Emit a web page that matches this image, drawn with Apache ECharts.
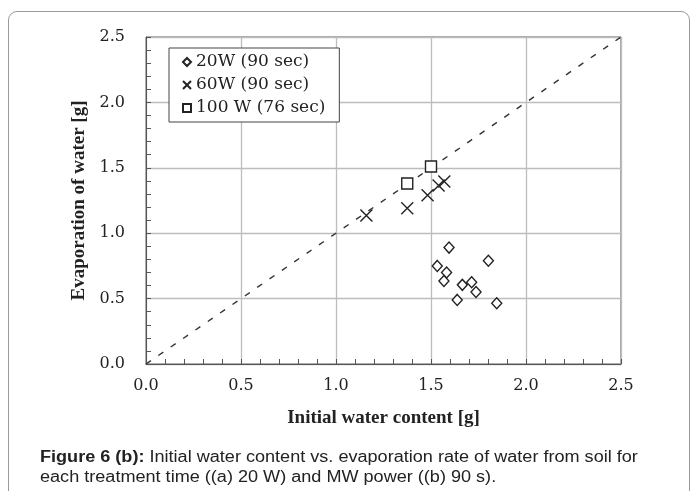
<!DOCTYPE html>
<html>
<head>
<meta charset="utf-8">
<script src="https://cdn.jsdelivr.net/npm/echarts@6/dist/echarts.min.js"></script>
<style>
  html, body { margin: 0; padding: 0; background: #fff; }
  .page { position: relative; width: 690px; height: 491px; overflow: hidden; }
  /* rounded frame, cut off at the bottom */
  .frame {
    position: absolute; left: 8px; top: 11px; width: 680px; height: 520px;
    border: 1px solid #9a9a9a; border-radius: 9px;
  }
  #chart { position: absolute; left: 0; top: 0; width: 690px; height: 491px; }
  .caption {
    position: absolute; left: 40px; top: 447px; white-space: nowrap;
    font-family: "Liberation Sans", Arial, sans-serif; font-size: 16px;
    line-height: 20px; color: #222;
    transform: scaleX(1.13); transform-origin: left top;
  }
  .caption b { font-weight: bold; }
</style>
</head>
<body>
<div class="page">
  <div class="frame"></div>
  <div id="chart"></div>
  <div class="caption"><b>Figure 6 (b):</b> Initial water content vs. evaporation rate of water from soil for<br>each treatment time ((a) 20 W) and MW power ((b) 90 s).</div>
</div>
<script>
// 20W (90 sec): [initial water content, evaporation]
const w20 = [
  [1.595, 0.89], [1.533, 0.75], [1.582, 0.70], [1.568, 0.635], [1.802, 0.79],
  [1.665, 0.605], [1.714, 0.625], [1.737, 0.55], [1.638, 0.49], [1.846, 0.465]
]
// 60W (90 sec)
const w60 = [
  [1.16, 1.135], [1.375, 1.19], [1.482, 1.29], [1.54, 1.365], [1.57, 1.395]
]
// 100 W (76 sec)
const w100 = [
  [1.375, 1.38], [1.50, 1.51]
]
// 1:1 reference line
const oneToOne = [[0, 0], [2.5, 2.5]]
const axisTicks = [0, 0.5, 1.0, 1.5, 2.0, 2.5]

const serif = 'DejaVu Serif'
const titleFont = 'Liberation Serif'
const crossPath = 'path://M0,0L10,10M10,0L0,10'

const chart = echarts.init(document.getElementById('chart'))

function mainAxis(extra) {
  return Object.assign({
    type: 'value',
    min: axisTicks[0],
    max: axisTicks[axisTicks.length - 1],
    interval: 0.5,
    axisLine: { show: true, lineStyle: { color: '#555', width: 1 } },
    axisTick: { show: false },
    splitLine: { show: true, lineStyle: { color: '#bdbdbd', width: 1.3 } },
    nameTextStyle: { fontFamily: titleFont, fontWeight: 'bold', fontSize: 19, color: '#222' }
  }, extra)
}

// helper axis that only draws the small inward ticks every 0.1
function tickAxis(extra) {
  return Object.assign({
    type: 'value', min: 0, max: 2.5, interval: 0.1,
    axisLine: { show: false },
    axisTick: { show: true, inside: true, length: 5, lineStyle: { color: '#555', width: 1 } },
    axisLabel: { show: false },
    splitLine: { show: false }
  }, extra)
}

chart.setOption({
  backgroundColor: 'transparent',
  animation: false,
  grid: {
    left: 146, right: 69, top: 37, bottom: 127,
    show: true, borderColor: '#555', borderWidth: 1
  },
  legend: {
    left: 169, top: 48,
    orient: 'vertical',
    data: ['20W (90 sec)', '60W (90 sec)', '100 W (76 sec)'],
    backgroundColor: '#fff',
    borderColor: '#444', borderWidth: 1, borderRadius: 0,
    padding: [5, 14, 5, 13],
    itemGap: 5,
    itemWidth: 8, itemHeight: 8,
    textStyle: { fontFamily: serif, fontSize: 17, color: '#222', lineHeight: 18 }
  },
  xAxis: [
    mainAxis({
      name: 'Initial water content [g]',
      nameLocation: 'middle', nameGap: 45,
      axisLabel: { fontFamily: serif, fontSize: 16, color: '#222', margin: 14, formatter: v => v.toFixed(1) }
    }),
    tickAxis({ position: 'bottom' })
  ],
  yAxis: [
    mainAxis({
      name: 'Evaporation of water [g]',
      nameLocation: 'middle', nameGap: 56,
      axisLabel: { fontFamily: serif, fontSize: 16, color: '#222', margin: 21, formatter: v => v.toFixed(1) }
    }),
    tickAxis({ position: 'left' })
  ],
  series: [
    {
      name: '1:1',
      type: 'line',
      data: oneToOne,
      symbol: 'none',
      silent: true,
      z: 1,
      lineStyle: { color: '#333', width: 1.4, type: [6, 9] }
    },
    {
      name: '20W (90 sec)',
      type: 'scatter',
      data: w20,
      symbol: 'diamond',
      symbolSize: [10, 11],
      z: 3,
      itemStyle: { color: '#fff', borderColor: '#222', borderWidth: 1.4, opacity: 1 }
    },
    {
      name: '60W (90 sec)',
      type: 'scatter',
      data: w60,
      symbol: crossPath,
      symbolSize: 12,
      z: 3,
      itemStyle: { color: '#fff', borderColor: '#222', borderWidth: 1.4, opacity: 1 }
    },
    {
      name: '100 W (76 sec)',
      type: 'scatter',
      data: w100,
      symbol: 'rect',
      symbolSize: 11,
      z: 3,
      itemStyle: { color: '#fff', borderColor: '#222', borderWidth: 1.4, opacity: 1 }
    }
  ]
})
</script>
</body>
</html>
